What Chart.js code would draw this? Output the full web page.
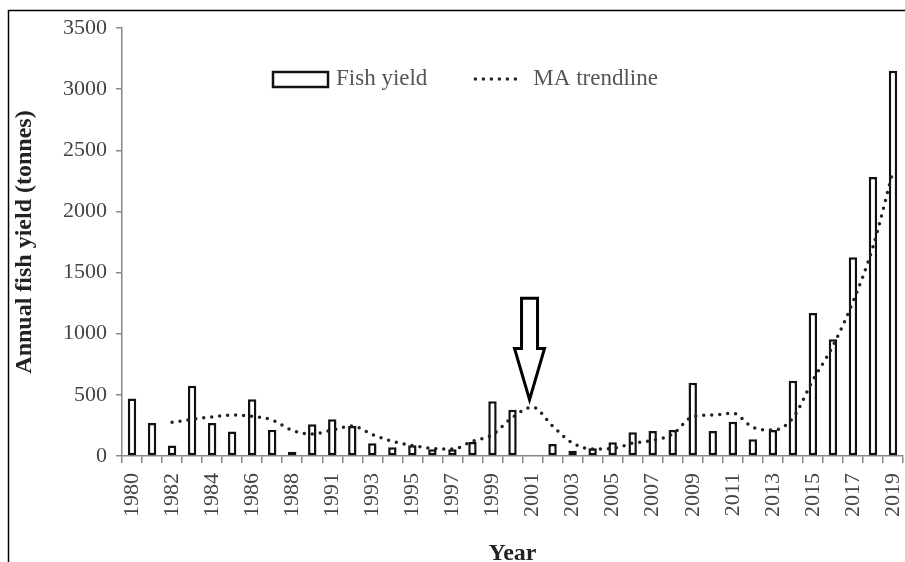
<!DOCTYPE html>
<html>
<head>
<meta charset="utf-8">
<script src="https://cdn.jsdelivr.net/npm/chart.js@4.4.0/dist/chart.umd.min.js"></script>
<style>
    html, body { margin: 0; padding: 0; background: #fff; }
    #wrap { width: 905px; height: 562px; position: relative; }
</style>
</head>
<body>
<div id="wrap"><canvas id="fish-chart"></canvas></div>
<script>
"use strict";

// years on the x axis (1989 is not in the series)
var years = [1980, 1981, 1982, 1983, 1984, 1985, 1986, 1987, 1988, 1990,
    1991, 1992, 1993, 1994, 1995, 1996, 1997, 1998, 1999, 2000,
    2001, 2002, 2003, 2004, 2005, 2006, 2007, 2008, 2009, 2010,
    2011, 2012, 2013, 2014, 2015, 2016, 2017, 2018, 2019];

// annual fish yield (tonnes)
var fishYield = [470, 270, 85, 575, 270, 200, 465, 215, 35, 260,
    300, 245, 105, 72, 88, 55, 55, 115, 448, 378,
    0, 98, 42, 63, 112, 195, 205, 212, 600, 205,
    280, 137, 212, 615, 1170, 955, 1625, 2282, 3150];

// moving average trendline
var maTrend = [null, null, 275, 300, 320, 335, 325, 294, 210, 180,
    212, 245, 175, 120, 85, 62, 57, 120, 175, 315,
    400, 245, 106, 58, 62, 105, 128, 180, 321, 335,
    350, 235, 212, 310, 620, 900, 1260, 1710, 2330];

// years that get a label under the axis
var tickYears = [1980, 1982, 1984, 1986, 1988, 1991, 1993, 1995, 1997, 1999,
    2001, 2003, 2005, 2007, 2009, 2011, 2013, 2015, 2017, 2019];

var serif = "'Liberation Serif', 'Times New Roman', serif";

// frame, arrow pointing at 2001 and the legend
var extras = {
    id: 'extras',
    afterDraw: function (chart) {
        var ctx = chart.ctx;
        var xs = chart.scales.x, ys = chart.scales.y;
        ctx.save();

        // frame (left + top)
        ctx.strokeStyle = '#000';
        ctx.lineWidth = 1.5;
        ctx.beginPath();
        ctx.moveTo(8.5, chart.height);
        ctx.lineTo(8.5, 10.5);
        ctx.lineTo(chart.width, 10.5);
        ctx.stroke();

        // hollow arrow
        var ax = xs.getPixelForValue(years.indexOf(2001)) - 3;
        var aTop = ys.getPixelForValue(1290);
        var aNeck = ys.getPixelForValue(880);
        var aTip = ys.getPixelForValue(460);
        ctx.lineWidth = 3;
        ctx.lineJoin = 'miter';
        ctx.beginPath();
        ctx.moveTo(ax - 8, aTop);
        ctx.lineTo(ax + 8, aTop);
        ctx.lineTo(ax + 8, aNeck);
        ctx.lineTo(ax + 15, aNeck);
        ctx.lineTo(ax, aTip);
        ctx.lineTo(ax - 15, aNeck);
        ctx.lineTo(ax - 8, aNeck);
        ctx.closePath();
        ctx.stroke();

        // legend
        var ds = chart.data.datasets;
        var ly = 79;
        var lx = 273;
        ctx.font = '23px ' + serif;
        ctx.textBaseline = 'middle';
        ctx.textAlign = 'left';
        ctx.fillStyle = '#fff';
        ctx.fillRect(lx, ly - 7, 55, 15);
        ctx.strokeStyle = '#111';
        ctx.lineWidth = 2.5;
        ctx.strokeRect(lx, ly - 7, 55, 15);
        ctx.fillStyle = '#555';
        ctx.fillText(ds[1].label, lx + 63, ly);
        lx = lx + 63 + ctx.measureText(ds[1].label).width + 46;
        ctx.strokeStyle = '#222';
        ctx.lineWidth = 3.5;
        ctx.lineCap = 'round';
        ctx.setLineDash([0, 8]);
        ctx.beginPath();
        ctx.moveTo(lx + 2, ly);
        ctx.lineTo(lx + 50, ly);
        ctx.stroke();
        ctx.setLineDash([]);
        ctx.fillText(ds[0].label, lx + 60, ly);

        ctx.restore();
    }
};

new Chart(document.getElementById('fish-chart'), {
    type: 'bar',
    data: {
        labels: years,
        datasets: [{
            type: 'line',
            label: 'MA trendline',
            data: maTrend,
            order: 0,
            borderColor: '#222',
            borderWidth: 3.5,
            borderDash: [0, 8],
            borderCapStyle: 'round',
            cubicInterpolationMode: 'monotone',
            pointRadius: 0,
            fill: false
        }, {
            type: 'bar',
            label: 'Fish yield',
            data: fishYield,
            order: 1,
            backgroundColor: '#fff',
            borderColor: '#111',
            borderWidth: 2.5,
            borderSkipped: false,
            barPercentage: 0.42,
            categoryPercentage: 1
        }]
    },
    options: {
        responsive: true,
        maintainAspectRatio: false,
        animation: false,
        layout: { padding: { left: 0, right: 2, top: 28, bottom: -6 } },
        plugins: {
            legend: { display: false },
            tooltip: { enabled: false }
        },
        scales: {
            x: {
                grid: { offset: true, drawOnChartArea: false, tickLength: 7, color: '#888', lineWidth: 1.5 },
                border: { color: '#888', width: 1.5 },
                ticks: {
                    autoSkip: false,
                    minRotation: 90,
                    maxRotation: 90,
                    padding: 10,
                    color: '#444',
                    font: { family: serif, size: 22 },
                    callback: function (v, i) {
                        return tickYears.indexOf(years[i]) >= 0 ? String(years[i]) : '';
                    }
                },
                title: {
                    display: true,
                    text: 'Year',
                    color: '#222',
                    font: { family: serif, size: 24, weight: 'bold' },
                    padding: { top: 0, bottom: 0 }
                },
                afterFit: function (s) {
                    s.height = 112;
                    s.paddingLeft = 0;
                    s.paddingRight = 0;
                }
            },
            y: {
                min: 0,
                max: 3500,
                grid: { drawOnChartArea: false, tickLength: 6, color: '#888', lineWidth: 1.5 },
                border: { color: '#888', width: 1.5 },
                ticks: {
                    stepSize: 500,
                    padding: 9,
                    color: '#444',
                    font: { family: serif, size: 22 },
                    callback: function (v) { return String(v); }
                },
                title: {
                    display: true,
                    text: 'Annual fish yield (tonnes)',
                    color: '#222',
                    font: { family: serif, size: 24, weight: 'bold' },
                    padding: { top: 10, bottom: 0 }
                },
                afterFit: function (s) { s.width = 122; }
            }
        }
    },
    plugins: [extras]
});
</script>
</body>
</html>
